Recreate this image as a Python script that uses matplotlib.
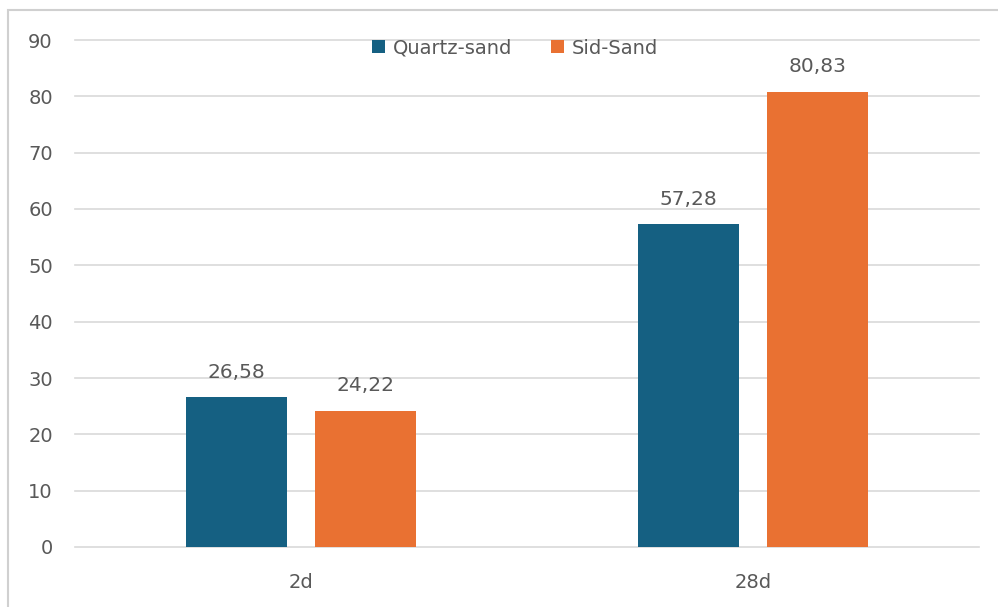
import matplotlib.pyplot as plt
import numpy as np
from matplotlib.patches import Rectangle

# Dados
categorias = ["2d", "28d"]
quartz = [26.58, 57.28]
sid = [24.22, 80.83]
series = ["Quartz-sand", "Sid-Sand"]

cor_quartz = "#156082"
cor_sid = "#E97132"
cinza = "#595959"

fig = plt.figure(figsize=(9.98, 6.07), dpi=100)
ax = fig.add_axes([75 / 998, 1 - 547 / 607, (979 - 75) / 998, (547 - 40) / 607])

# moldura do gráfico (cortada à direita e embaixo)
fig.patches.append(Rectangle((8 / 998, -0.1), 1.2, 1 - 10 / 607 + 0.1,
                             transform=fig.transFigure, fill=False,
                             edgecolor="#d0d0d0", linewidth=1.5))

x = np.arange(len(categorias))
larg = 0.225
desloc = 0.1425
b1 = ax.bar(x - desloc, quartz, larg, color=cor_quartz, label=series[0], zorder=3)
b2 = ax.bar(x + desloc, sid, larg, color=cor_sid, label=series[1], zorder=3)

for barras, valores in [(b1, quartz), (b2, sid)]:
    for b, v in zip(barras, valores):
        ax.annotate(f"{v:.2f}".replace(".", ","),
                    (b.get_x() + b.get_width() / 2, v),
                    xytext=(0, 11), textcoords="offset points",
                    ha="center", va="bottom", fontsize=14.5, color=cinza)

ax.set_xlim(-0.5, 1.5)
ax.set_ylim(0, 90)
ax.set_yticks(range(0, 91, 10))
ax.set_xticks(x)
ax.set_xticklabels(categorias)
ax.grid(axis="y", color="#d9d9d9", linewidth=1.2, zorder=0)
for g in ax.get_ygridlines():
    g.set_clip_on(False)
for s in ax.spines.values():
    s.set_visible(False)
ax.tick_params(length=0, labelsize=14, colors=cinza)
ax.tick_params(axis="y", pad=16)
ax.tick_params(axis="x", pad=19)

fig.legend(loc="center", bbox_to_anchor=(515 / 998, 1 - 48 / 607), ncol=2,
           frameon=False, fontsize=14, labelcolor=cinza, handlelength=0.65,
           handleheight=0.65, handletextpad=0.4, columnspacing=2.0)

fig.savefig("out.png", dpi=100)
